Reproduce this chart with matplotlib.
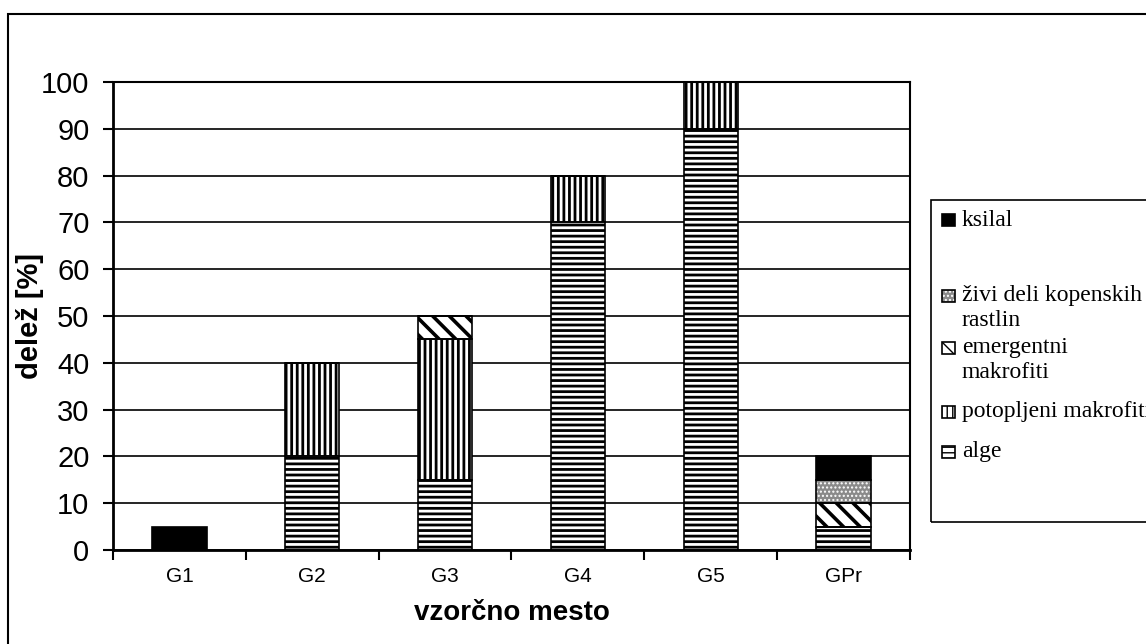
import matplotlib
matplotlib.use('Agg')
import matplotlib.pyplot as plt
from matplotlib.patches import Rectangle
import numpy as np

sites = ['G1', 'G2', 'G3', 'G4', 'G5', 'GPr']
alge = [0, 20, 15, 70, 90, 5]
potopljeni = [0, 20, 30, 10, 10, 0]
emergentni = [0, 0, 5, 0, 0, 5]
zivi = [0, 0, 0, 0, 0, 5]
ksilal = [5, 0, 0, 0, 0, 5]

# bottom to top stack: (values, legend text, face, hatch, hatch colour, hatch width)
series = [
    (alge, 'alge', 'white', '---', 'black', 2.0),
    (potopljeni, 'potopljeni makrofiti', 'white', '|||', 'black', 2.0),
    (emergentni, 'emergentni\nmakrofiti', 'white', '\\\\', 'black', 2.6),
    (zivi, 'živi deli kopenskih\nrastlin', '#8a8a8a', '....', 'white', 1.0),
    (ksilal, 'ksilal', 'black', None, 'black', 1.0),
]

W, H = 1146, 644
fig = plt.figure(figsize=(W / 100, H / 100), dpi=100)
ax = fig.add_axes([113 / W, 1 - 550 / H, (910 - 113) / W, (550 - 82) / H])

x = np.arange(len(sites))
width = 0.41
bottom = np.zeros(len(sites))
for vals, label, face, hatch, hcol, hlw in series:
    vals = np.array(vals, dtype=float)
    with plt.rc_context({'hatch.linewidth': hlw}):
        ax.bar(x, vals, width, bottom=bottom, color=face, edgecolor=hcol,
               hatch=hatch, linewidth=0, zorder=2)
    ax.bar(x, vals, width, bottom=bottom, fill=False, edgecolor='black',
           linewidth=1.2, zorder=3)
    bottom += vals

ax.set_xlim(-0.5, len(sites) - 0.5)
ax.set_ylim(0, 100)
ax.set_yticks(np.arange(0, 101, 10))
ax.set_yticklabels([str(v) for v in range(0, 101, 10)], fontsize=21,
                   family='Liberation Sans')
ax.set_xticks(x)
ax.set_xticklabels(sites, fontsize=15, family='Liberation Sans')
ax.set_xticks(np.arange(-0.5, len(sites)), minor=True)
ax.tick_params(axis='x', which='major', length=0, pad=12)
ax.tick_params(axis='x', which='minor', length=7, width=1.5, direction='out')
ax.tick_params(axis='y', length=7, width=1.5, direction='out', pad=10)
ax.yaxis.grid(True, color='black', linewidth=1.2, zorder=1)
ax.set_axisbelow(True)
for s in ax.spines.values():
    s.set_linewidth(1.5)
ax.spines['left'].set_linewidth(2)
ax.spines['bottom'].set_linewidth(2)

ax.set_xlabel('vzorčno mesto', fontsize=20, fontweight='bold',
              family='Liberation Sans', labelpad=10)
ax.set_ylabel('delež [%]', fontsize=21, fontweight='bold',
              family='Liberation Sans')
# y label sits tight against the tick labels
ax.yaxis.set_label_coords(-69 / 797, 0.5)

# outer chart frame
fig.add_artist(Rectangle((8 / W, -0.1), 1.2, 1 - 14 / H + 0.1,
                         transform=fig.transFigure, fill=False,
                         edgecolor='black', linewidth=1.5))

# legend box, drawn by hand
fig.add_artist(Rectangle((931 / W, 1 - 522 / H), 0.3, (522 - 200) / H,
                         transform=fig.transFigure, fill=False,
                         edgecolor='black', linewidth=1.2))
entry_y = {'ksilal': 220, 'živi deli kopenskih\nrastlin': 296,
           'emergentni\nmakrofiti': 348, 'potopljeni makrofiti': 412,
           'alge': 452}
for vals, label, face, hatch, hcol, hlw in series:
    yc = entry_y[label]
    with plt.rc_context({'hatch.linewidth': 1.0}):
        fig.add_artist(Rectangle((942 / W, 1 - (yc + 6) / H), 13 / W, 12 / H,
                                 transform=fig.transFigure, facecolor=face,
                                 edgecolor=hcol, hatch=hatch, linewidth=0))
    fig.add_artist(Rectangle((942 / W, 1 - (yc + 6) / H), 13 / W, 12 / H,
                             transform=fig.transFigure, fill=False,
                             edgecolor='black', linewidth=1.2))
    for i, ln in enumerate(label.split('\n')):
        fig.text(962 / W, 1 - (yc + i * 24) / H, ln, fontsize=17,
                 family='Liberation Serif', va='center', ha='left')

fig.savefig('out.png', dpi=100)
